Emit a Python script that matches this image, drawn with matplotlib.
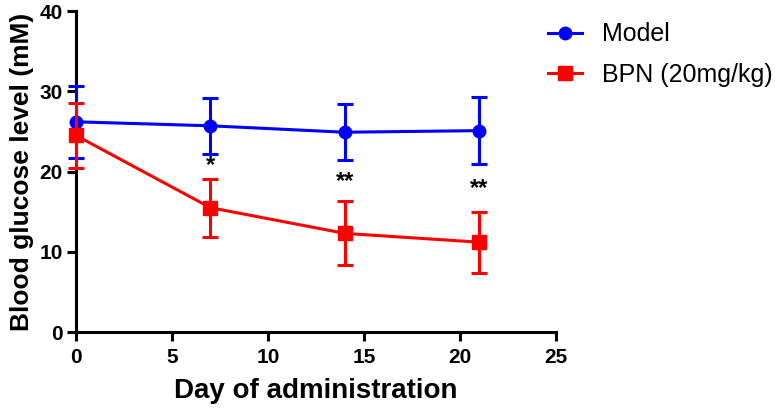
import matplotlib
matplotlib.use("Agg")
import matplotlib.pyplot as plt

# Daten (mM), gelesen aus der Abbildung
days = [0, 7, 14, 21]
model_mean = [26.2, 25.7, 24.9, 25.1]
model_err = [4.5, 3.5, 3.5, 4.2]
bpn_mean = [24.5, 15.5, 12.3, 11.2]
bpn_err = [4.0, 3.6, 4.0, 3.8]
stars = ["*", "**", "**"]
star_y = [20.7, 18.7, 17.9]

plt.rcParams['font.family'] = ['Liberation Sans', 'DejaVu Sans']

fig = plt.figure(figsize=(7.83, 4.08), dpi=100)
ax = fig.add_axes([0.0971, 0.186, 0.613, 0.787])

e1 = ax.errorbar(days, model_mean, yerr=model_err, color='#0000ff', marker='o',
                 markersize=9, linewidth=2.2, elinewidth=2.2, capsize=5.5, capthick=2.2,
                 clip_on=False, zorder=3)
e2 = ax.errorbar(days, bpn_mean, yerr=bpn_err, color='#ff0000', marker='s',
                 markersize=10, linewidth=2.2, elinewidth=2.2, capsize=5.5, capthick=2.2,
                 clip_on=False, zorder=4)

for d, s, y in zip(days[1:], stars, star_y):
    ax.text(d, y, s, ha='center', va='center', fontsize=17, fontweight='bold')

ax.set_xlim(0, 25)
ax.set_ylim(0, 40)
ax.set_xticks([0, 5, 10, 15, 20, 25])
ax.set_yticks([0, 10, 20, 30, 40])
ax.spines['top'].set_visible(False)
ax.spines['right'].set_visible(False)
ax.spines['left'].set_linewidth(2.2)
ax.spines['bottom'].set_linewidth(2.2)
ax.tick_params(width=2.2, length=6.5, labelsize=15)
ax.tick_params(axis='x', pad=5)
ax.tick_params(axis='y', pad=3)
for lab in ax.get_xticklabels() + ax.get_yticklabels():
    lab.set_fontweight('bold')

ax.set_xlabel('Day of administration', fontsize=20, fontweight='bold', labelpad=8)
ax.set_ylabel('Blood glucose level (mM)', fontsize=19, fontweight='bold', labelpad=4)

# nur Linie + Marker in der Legende
ax.legend([e1[0], e2[0]], ['Model', 'BPN (20mg/kg)'], loc='upper left',
          bbox_to_anchor=(0.942, 1.027), frameon=False, fontsize=18,
          handlelength=1.35, handletextpad=0.8, labelspacing=0.65, borderpad=0.3)

fig.savefig('out.png', dpi=100)
